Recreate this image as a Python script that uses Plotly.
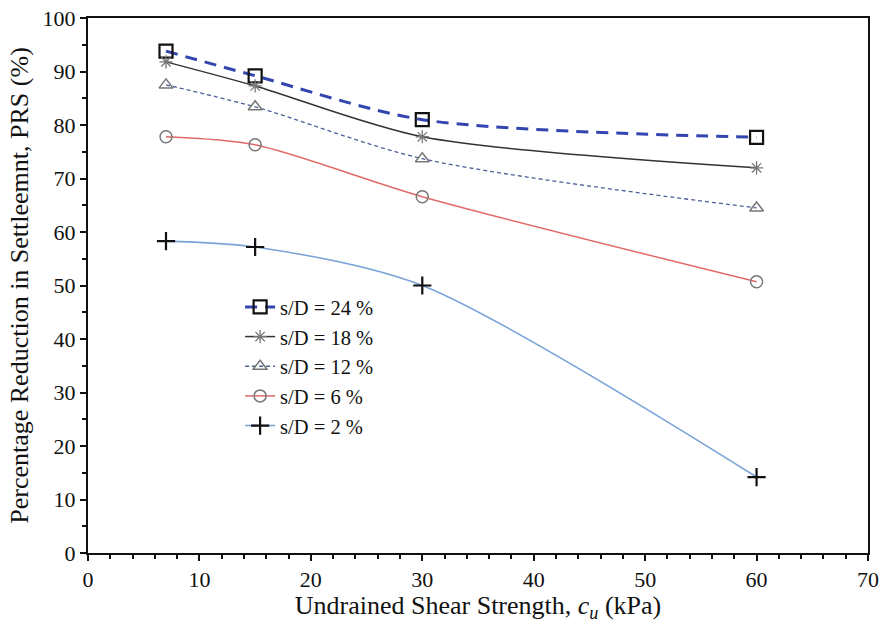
import plotly.graph_objects as go

cu = [7, 15, 30, 60]
prs_24 = [93.8, 89.2, 81.0, 77.7]
prs_18 = [91.8, 87.3, 77.8, 72.0]
prs_12 = [87.5, 83.4, 73.7, 64.5]
prs_6 = [77.8, 76.3, 66.6, 50.7]
prs_2 = [58.3, 57.2, 50.0, 14.2]

series = [
    ("s/D = 24 %", prs_24, dict(color="#3346b0", width=3, dash="12px,8px"),
     dict(symbol="square-open", size=13, color="#111111", line=dict(width=2.2, color="#111111"))),
    ("s/D = 18 %", prs_18, dict(color="#333333", width=1.5, dash="solid"),
     dict(symbol="asterisk-open", size=11, color="#777777", line=dict(width=1.3, color="#666666"))),
    ("s/D = 12 %", prs_12, dict(color="#4c5f98", width=1.3, dash="4px,3px"),
     dict(symbol="triangle-up-open", size=12, color="#777777", line=dict(width=1.5, color="#777777"))),
    ("s/D = 6 %", prs_6, dict(color="#e06a6a", width=1.5, dash="solid"),
     dict(symbol="circle-open", size=12, color="#777777", line=dict(width=1.5, color="#777777"))),
    ("s/D = 2 %", prs_2, dict(color="#7ba4d8", width=1.6, dash="solid"),
     dict(symbol="cross-thin-open", size=13, color="#111111", line=dict(width=2.2, color="#111111"))),
]

fig = go.Figure()
for name, ys, line, marker in series:
    fig.add_trace(go.Scatter(
        x=cu, y=ys, name=name, mode="lines+markers",
        line=dict(shape="spline", smoothing=0.8, **line),
        marker=marker,
    ))

font_family = "Liberation Serif"
fig.update_layout(
    width=881, height=623,
    margin=dict(l=88, r=13, t=18, b=70),
    paper_bgcolor="white", plot_bgcolor="white",
    font=dict(family=font_family, size=22, color="#111111"),
    showlegend=True,
    legend=dict(x=0.195, y=0.497, xanchor="left", yanchor="top",
                bgcolor="rgba(0,0,0,0)", font=dict(size=20.5, family=font_family),
                tracegroupgap=0),
    xaxis=dict(
        range=[0, 70], tickvals=[0, 10, 20, 30, 40, 50, 60, 70],
        showgrid=False, zeroline=False, automargin=False,
        showline=True, linecolor="#111111", linewidth=2, mirror=True,
        ticks="outside", ticklen=6, tickwidth=1.5, tickcolor="#111111",
        minor=dict(dtick=2, ticks="outside", ticklen=4, tickwidth=1.5, tickcolor="#111111"),
        title=dict(text="Undrained Shear Strength, <i>c<sub>u</sub></i> (kPa)",
                   font=dict(size=26, family=font_family), standoff=6),
        tickfont=dict(size=22, family=font_family),
    ),
    yaxis=dict(
        range=[0, 100], tickvals=[0, 10, 20, 30, 40, 50, 60, 70, 80, 90, 100],
        showgrid=False, zeroline=False, automargin=False,
        showline=True, linecolor="#111111", linewidth=2, mirror=True,
        ticks="outside", ticklen=6, tickwidth=1.5, tickcolor="#111111",
        minor=dict(dtick=5, ticks="outside", ticklen=4, tickwidth=1.5, tickcolor="#111111"),
        title=dict(text="Percentage Reduction in Settleemnt, PRS (%)",
                   font=dict(size=26, family=font_family), standoff=6),
        tickfont=dict(size=22, family=font_family),
    ),
)

fig.write_html("out.html")
